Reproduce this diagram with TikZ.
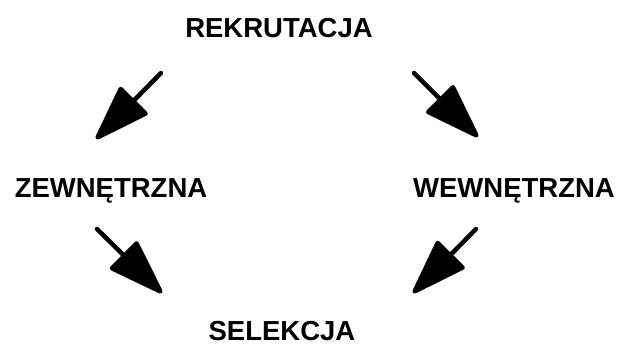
\documentclass[tikz,border=0pt]{standalone}
\usepackage{fontspec}
\setmainfont{Liberation Sans}
\usetikzlibrary{arrows.meta}
\begin{document}
\begin{tikzpicture}[x=1pt,y=-1pt,
  label/.style={font=\bfseries\fontsize{27.5}{30}\selectfont, inner sep=0pt, anchor=base},
  bigarrow/.style={line width=4.5pt, line cap=round, -{Triangle[length=60pt,width=40pt,round]}}]
  \useasboundingbox (0,0) rectangle (617,344);
  \node[label] (rek) at (279,38) {REKRUTACJA};
  \node[label] (zew) at (111,198) {ZEWNĘTRZNA};
  \node[label] (wew) at (514,198) {WEWNĘTRZNA};
  \node[label] (sel) at (282,340) {SELEKCJA};
  % arrow end points
  \coordinate (a1s) at (161,73);  \coordinate (a1e) at (96,139);
  \coordinate (a2s) at (414,73);  \coordinate (a2e) at (478,137);
  \coordinate (a3s) at (97,229);  \coordinate (a3e) at (162,293);
  \coordinate (a4s) at (476,229); \coordinate (a4e) at (413,293);
  \draw[bigarrow] (a1s) -- (a1e);
  \draw[bigarrow] (a2s) -- (a2e);
  \draw[bigarrow] (a3s) -- (a3e);
  \draw[bigarrow] (a4s) -- (a4e);
\end{tikzpicture}
\end{document}
